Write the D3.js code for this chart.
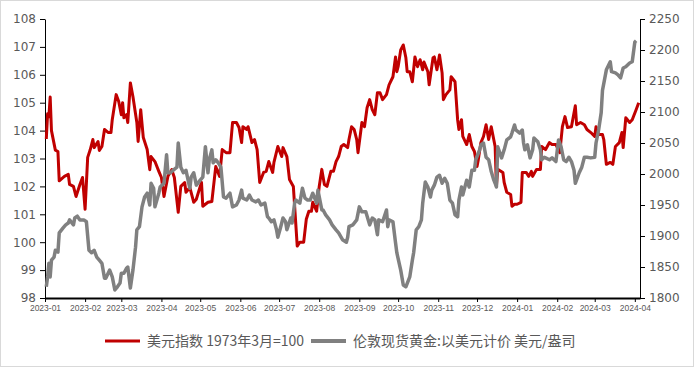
<!DOCTYPE html>
<html>
<head>
<meta charset="utf-8">
<script src="https://cdn.jsdelivr.net/npm/d3@7"></script>
<style>
  body { margin: 0; background: #fff; }
  svg { display: block; }
</style>
</head>
<body>
<svg id="chart"></svg>
<script>
// 美元指数 (left axis)
var dxySeries = [
  ["2023-01-02",103.7],["2023-01-03",104.6],["2023-01-04",104.5],["2023-01-05",105.2],["2023-01-06",104.0],
  ["2023-01-09",103.3],["2023-01-11",103.25],["2023-01-12",102.2],["2023-01-16",102.36],["2023-01-19",102.43],
  ["2023-01-20",102.07],["2023-01-23",102.0],["2023-01-25",101.64],["2023-01-28",102.07],["2023-01-30",102.32],
  ["2023-02-01",101.18],["2023-02-03",103.04],["2023-02-05",103.32],["2023-02-07",103.68],["2023-02-08",103.39],
  ["2023-02-11",103.61],["2023-02-12",103.29],["2023-02-14",103.43],["2023-02-16",104.04],["2023-02-19",103.93],
  ["2023-02-21",103.93],["2023-02-22",104.39],["2023-02-25",105.29],["2023-02-27",105.04],["2023-03-01",104.57],
  ["2023-03-02",105.0],["2023-03-03",104.46],["2023-03-05",104.57],["2023-03-06",104.29],["2023-03-08",105.71],
  ["2023-03-10",105.21],["2023-03-13",104.29],["2023-03-14",103.61],["2023-03-16",104.75],["2023-03-18",103.75],
  ["2023-03-21",103.32],["2023-03-23",102.6],["2023-03-24",103.07],["2023-03-27",102.89],["2023-03-30",102.54],
  ["2023-04-01",102.32],["2023-04-03",101.64],["2023-04-06",102.36],["2023-04-09",102.6],["2023-04-11",102.32],
  ["2023-04-14",101.07],["2023-04-16",102.0],["2023-04-19",102.14],["2023-04-20",101.79],["2023-04-23",101.96],
  ["2023-04-26",101.43],["2023-04-28",101.54],["2023-05-01",102.0],["2023-05-02",102.14],["2023-05-03",101.29],
  ["2023-05-07",101.43],["2023-05-10",101.46],["2023-05-13",102.71],["2023-05-16",102.36],["2023-05-18",103.32],
  ["2023-05-21",103.21],["2023-05-24",103.21],["2023-05-26",104.29],["2023-05-29",104.29],["2023-05-31",104.11],
  ["2023-06-02",103.57],["2023-06-03",104.14],["2023-06-06",104.04],["2023-06-07",104.14],["2023-06-10",103.57],
  ["2023-06-12",103.68],["2023-06-14",103.32],["2023-06-16",102.14],["2023-06-19",102.5],["2023-06-21",102.54],
  ["2023-06-23",102.89],["2023-06-26",102.5],["2023-06-27",102.86],["2023-06-30",103.43],["2023-07-03",103.07],
  ["2023-07-04",103.39],["2023-07-07",103.07],["2023-07-09",102.25],["2023-07-12",102.0],["2023-07-13",101.29],
  ["2023-07-15",99.86],["2023-07-17",100.0],["2023-07-20",100.0],["2023-07-22",100.82],["2023-07-24",101.11],
  ["2023-07-26",101.11],["2023-07-27",101.43],["2023-07-30",101.11],["2023-08-01",102.0],["2023-08-03",102.61],
  ["2023-08-05",102.07],["2023-08-07",102.0],["2023-08-10",102.54],["2023-08-12",102.54],["2023-08-14",102.89],
  ["2023-08-16",103.07],["2023-08-18",103.43],["2023-08-20",103.5],["2023-08-23",103.39],["2023-08-24",103.68],
  ["2023-08-26",104.14],["2023-08-28",104.04],["2023-08-30",103.68],["2023-08-31",103.21],["2023-09-03",104.29],
  ["2023-09-05",104.14],["2023-09-07",104.82],["2023-09-09",105.11],["2023-09-11",104.75],["2023-09-13",104.57],
  ["2023-09-15",105.36],["2023-09-17",105.36],["2023-09-19",105.11],["2023-09-22",105.29],["2023-09-24",105.64],
  ["2023-09-27",105.93],["2023-09-29",106.64],["2023-09-30",106.11],["2023-10-01",106.29],["2023-10-03",106.89],
  ["2023-10-05",107.07],["2023-10-07",106.61],["2023-10-08",106.11],["2023-10-10",106.11],["2023-10-12",105.75],
  ["2023-10-14",106.64],["2023-10-16",106.29],["2023-10-18",106.54],["2023-10-20",106.18],["2023-10-21",106.46],
  ["2023-10-24",106.11],["2023-10-25",105.64],["2023-10-28",106.61],["2023-10-29",106.64],["2023-10-31",106.18],
  ["2023-11-02",106.71],["2023-11-04",106.07],["2023-11-05",105.11],["2023-11-07",105.29],["2023-11-10",105.46],
  ["2023-11-11",105.93],["2023-11-14",105.75],["2023-11-16",104.39],["2023-11-17",104.04],["2023-11-19",104.39],
  ["2023-11-20",103.79],["2023-11-23",103.5],["2023-11-25",103.86],["2023-11-27",103.43],["2023-11-29",103.25],
  ["2023-12-01",102.71],["2023-12-02",102.96],["2023-12-04",103.57],["2023-12-06",103.79],["2023-12-08",104.21],
  ["2023-12-10",103.68],["2023-12-12",104.14],["2023-12-15",103.43],["2023-12-16",102.0],["2023-12-17",102.61],
  ["2023-12-21",102.5],["2023-12-22",102.14],["2023-12-24",101.79],["2023-12-27",101.71],["2023-12-28",101.29],
  ["2023-12-30",101.36],["2024-01-01",101.36],["2024-01-04",101.43],["2024-01-05",102.5],["2024-01-08",102.5],
  ["2024-01-10",102.36],["2024-01-12",102.54],["2024-01-13",102.36],["2024-01-16",102.61],["2024-01-19",102.61],
  ["2024-01-20",103.43],["2024-01-23",103.32],["2024-01-26",103.57],["2024-01-28",103.5],["2024-01-31",103.5],
  ["2024-02-03",103.21],["2024-02-05",104.14],["2024-02-07",104.5],["2024-02-09",104.11],["2024-02-12",104.14],
  ["2024-02-15",104.89],["2024-02-16",104.21],["2024-02-19",104.29],["2024-02-22",104.21],["2024-02-24",104.04],
  ["2024-02-27",103.93],["2024-03-01",103.79],["2024-03-02",104.14],["2024-03-04",103.86],["2024-03-07",103.86],
  ["2024-03-08",103.68],["2024-03-10",102.79],["2024-03-13",102.86],["2024-03-15",102.79],["2024-03-17",103.43],
  ["2024-03-20",103.57],["2024-03-22",103.93],["2024-03-23",103.39],["2024-03-25",104.46],["2024-03-28",104.29],
  ["2024-03-30",104.39],["2024-04-02",104.75],["2024-04-04",105.0]
];

// 伦敦现货黄金 (right axis)
var goldSeries = [
  ["2023-01-02",1818],["2023-01-03",1834],["2023-01-04",1856],["2023-01-05",1834],["2023-01-06",1861],
  ["2023-01-08",1866],["2023-01-09",1877],["2023-01-11",1874],["2023-01-12",1905],["2023-01-15",1913],
  ["2023-01-17",1918],["2023-01-19",1921],["2023-01-20",1926],["2023-01-23",1918],["2023-01-24",1929],
  ["2023-01-26",1932],["2023-01-28",1926],["2023-01-31",1926],["2023-02-02",1923],["2023-02-04",1877],
  ["2023-02-06",1873],["2023-02-08",1877],["2023-02-10",1866],["2023-02-12",1861],["2023-02-14",1856],
  ["2023-02-16",1832],["2023-02-17",1832],["2023-02-20",1845],["2023-02-22",1834],["2023-02-24",1813],
  ["2023-02-26",1818],["2023-02-28",1824],["2023-03-01",1840],["2023-03-03",1840],["2023-03-05",1848],
  ["2023-03-06",1850],["2023-03-08",1816],["2023-03-10",1845],["2023-03-12",1882],["2023-03-13",1910],
  ["2023-03-15",1915],["2023-03-17",1947],["2023-03-19",1963],["2023-03-21",1969],["2023-03-23",1950],
  ["2023-03-24",1985],["2023-03-26",1977],["2023-03-27",1947],["2023-03-30",1969],["2023-03-31",1979],
  ["2023-04-03",1985],["2023-04-05",2031],["2023-04-06",2002],["2023-04-08",2002],["2023-04-10",2006],
  ["2023-04-13",2011],["2023-04-14",2050],["2023-04-16",2011],["2023-04-18",2002],["2023-04-20",2006],
  ["2023-04-23",1977],["2023-04-24",1995],["2023-04-26",2002],["2023-04-28",1982],["2023-05-01",1990],
  ["2023-05-03",1995],["2023-05-05",2044],["2023-05-07",2002],["2023-05-08",2023],["2023-05-10",2039],
  ["2023-05-11",2018],["2023-05-13",2023],["2023-05-15",2018],["2023-05-17",2011],["2023-05-19",1963],
  ["2023-05-21",1961],["2023-05-24",1969],["2023-05-26",1947],["2023-05-29",1950],["2023-05-31",1958],
  ["2023-06-02",1974],["2023-06-03",1961],["2023-06-06",1958],["2023-06-08",1966],["2023-06-10",1958],
  ["2023-06-13",1955],["2023-06-15",1958],["2023-06-17",1950],["2023-06-20",1953],["2023-06-22",1931],
  ["2023-06-23",1929],["2023-06-25",1923],["2023-06-27",1926],["2023-06-29",1910],["2023-06-30",1898],
  ["2023-07-02",1913],["2023-07-04",1929],["2023-07-06",1923],["2023-07-07",1910],["2023-07-10",1929],
  ["2023-07-11",1921],["2023-07-13",1953],["2023-07-14",1958],["2023-07-17",1953],["2023-07-19",1977],
  ["2023-07-21",1961],["2023-07-23",1958],["2023-07-25",1958],["2023-07-27",1969],["2023-07-30",1953],
  ["2023-07-31",1974],["2023-08-03",1942],["2023-08-04",1942],["2023-08-06",1934],["2023-08-09",1926],
  ["2023-08-11",1918],["2023-08-14",1910],["2023-08-16",1905],["2023-08-19",1894],["2023-08-22",1890],
  ["2023-08-23",1898],["2023-08-24",1915],["2023-08-27",1918],["2023-08-30",1926],["2023-09-01",1947],
  ["2023-09-03",1939],["2023-09-06",1939],["2023-09-09",1918],["2023-09-11",1929],["2023-09-13",1926],
  ["2023-09-15",1902],["2023-09-16",1926],["2023-09-19",1923],["2023-09-22",1942],["2023-09-23",1915],
  ["2023-09-24",1926],["2023-09-27",1923],["2023-09-29",1889],["2023-09-30",1873],["2023-10-03",1845],
  ["2023-10-05",1821],["2023-10-07",1818],["2023-10-10",1834],["2023-10-12",1861],["2023-10-13",1873],
  ["2023-10-15",1910],["2023-10-17",1915],["2023-10-19",1926],["2023-10-20",1953],["2023-10-22",1987],
  ["2023-10-24",1979],["2023-10-26",1963],["2023-10-27",1974],["2023-10-29",1982],["2023-10-31",1995],
  ["2023-11-02",1998],["2023-11-04",1985],["2023-11-06",1993],["2023-11-08",1985],["2023-11-10",1958],
  ["2023-11-12",1953],["2023-11-14",1934],["2023-11-16",1931],["2023-11-17",1958],["2023-11-19",1979],
  ["2023-11-20",1966],["2023-11-22",1982],["2023-11-23",1990],["2023-11-25",1979],["2023-11-27",2006],
  ["2023-11-29",2006],["2023-11-30",2023],["2023-12-03",2039],["2023-12-04",2047],["2023-12-06",2050],
  ["2023-12-08",2027],["2023-12-10",2023],["2023-12-12",2004],["2023-12-14",1990],["2023-12-15",1985],
  ["2023-12-16",1979],["2023-12-17",2044],["2023-12-20",2026],["2023-12-22",2039],["2023-12-24",2055],
  ["2023-12-27",2060],["2023-12-28",2066],["2023-12-30",2079],["2023-12-31",2071],["2024-01-03",2066],
  ["2024-01-05",2071],["2024-01-06",2050],["2024-01-07",2039],["2024-01-09",2047],["2024-01-11",2026],
  ["2024-01-13",2039],["2024-01-14",2058],["2024-01-17",2052],["2024-01-19",2039],["2024-01-20",2023],
  ["2024-01-22",2027],["2024-01-23",2026],["2024-01-26",2023],["2024-01-28",2026],["2024-01-31",2020],
  ["2024-02-02",2055],["2024-02-04",2044],["2024-02-06",2023],["2024-02-08",2020],["2024-02-10",2027],
  ["2024-02-12",2020],["2024-02-14",2006],["2024-02-15",1985],["2024-02-18",2002],["2024-02-20",2011],
  ["2024-02-22",2027],["2024-02-24",2027],["2024-02-27",2026],["2024-03-01",2027],["2024-03-02",2050],
  ["2024-03-04",2071],["2024-03-06",2099],["2024-03-07",2135],["2024-03-10",2168],["2024-03-13",2181],
  ["2024-03-14",2165],["2024-03-17",2163],["2024-03-19",2160],["2024-03-21",2155],["2024-03-23",2171],
  ["2024-03-25",2173],["2024-03-28",2179],["2024-03-30",2181],["2024-04-01",2213],["2024-04-02",2215]
];

var leftTicks = [98, 99, 100, 101, 102, 103, 104, 105, 106, 107, 108];
var rightTicks = [1800, 1850, 1900, 1950, 2000, 2050, 2100, 2150, 2200, 2250];
var legendLabels = ["美元指数 1973年3月=100", "伦敦现货黄金:以美元计价 美元/盎司"];
var seriesColors = ["#c00000", "#808080"];

var width = 694, height = 367;
var plotLeft = 45, plotRight = 640, plotTop = 19, plotBottom = 298;
var parse = d3.timeParse("%Y-%m-%d");

var svg = d3.select("#chart")
  .attr("width", width)
  .attr("height", height);

svg.append("rect")
  .attr("x", 0.5).attr("y", 0.5)
  .attr("width", width - 1).attr("height", height - 1)
  .attr("fill", "#fff")
  .attr("stroke", "#d9d9d9");

var x = d3.scaleTime()
  .domain([parse("2023-01-01"), parse("2024-04-05")])
  .range([plotLeft, plotRight]);
var yLeft = d3.scaleLinear().domain([98, 108]).range([plotBottom, plotTop]);
var yRight = d3.scaleLinear().domain([1800, 2250]).range([plotBottom, plotTop]);

var labelColor = "#595959";

// left axis
var gl = svg.append("g")
  .attr("transform", "translate(" + plotLeft + ",0)")
  .call(d3.axisLeft(yLeft).tickValues(leftTicks).tickFormat(d3.format("d"))
    .tickSize(5).tickSizeOuter(0).tickPadding(4));
gl.selectAll("text")
  .attr("fill", labelColor)
  .style("font", "12px 'DejaVu Sans', sans-serif");

// right axis
var gr = svg.append("g")
  .attr("transform", "translate(" + plotRight + ",0)")
  .call(d3.axisRight(yRight).tickValues(rightTicks).tickFormat(d3.format("d"))
    .tickSize(5).tickSizeOuter(0).tickPadding(4));
gr.selectAll("text")
  .attr("fill", labelColor)
  .style("font", "12px 'DejaVu Sans', sans-serif");

// bottom axis
var gb = svg.append("g")
  .attr("transform", "translate(0," + plotBottom + ")")
  .call(d3.axisBottom(x)
    .ticks(d3.timeMonth.every(1))
    .tickFormat(d3.timeFormat("%Y-%m"))
    .tickSize(4).tickSizeOuter(0).tickPadding(3));
gb.select(".domain").attr("stroke-width", 2);
gb.selectAll("text")
  .attr("fill", labelColor)
  .style("font", "8.5px 'Liberation Sans', Arial, sans-serif");

svg.selectAll(".domain, .tick line").attr("stroke", "#000");

var lineLeft = d3.line()
  .x(function(d) { return x(parse(d[0])); })
  .y(function(d) { return yLeft(d[1]); });
var lineRight = d3.line()
  .x(function(d) { return x(parse(d[0])); })
  .y(function(d) { return yRight(d[1]); });

svg.append("path")
  .datum(dxySeries)
  .attr("d", lineLeft)
  .attr("fill", "none")
  .attr("stroke", seriesColors[0])
  .attr("stroke-width", 3)
  .attr("stroke-linejoin", "round");

svg.append("path")
  .datum(goldSeries)
  .attr("d", lineRight)
  .attr("fill", "none")
  .attr("stroke", seriesColors[1])
  .attr("stroke-width", 3.5)
  .attr("stroke-linejoin", "round");

// legend
var legendY = 341;
var legendX = [105, 311];
legendX.forEach(function(lx, i) {
  svg.append("line")
    .attr("x1", lx).attr("x2", lx + 35)
    .attr("y1", legendY).attr("y2", legendY)
    .attr("stroke", seriesColors[i])
    .attr("stroke-width", i === 0 ? 3 : 4);
  svg.append("text")
    .attr("x", lx + 42)
    .attr("y", legendY)
    .attr("dy", "0.35em")
    .attr("fill", labelColor)
    .style("font", "14px 'Noto Sans CJK SC', 'Liberation Sans', sans-serif")
    .text(legendLabels[i]);
});
</script>
</body>
</html>
